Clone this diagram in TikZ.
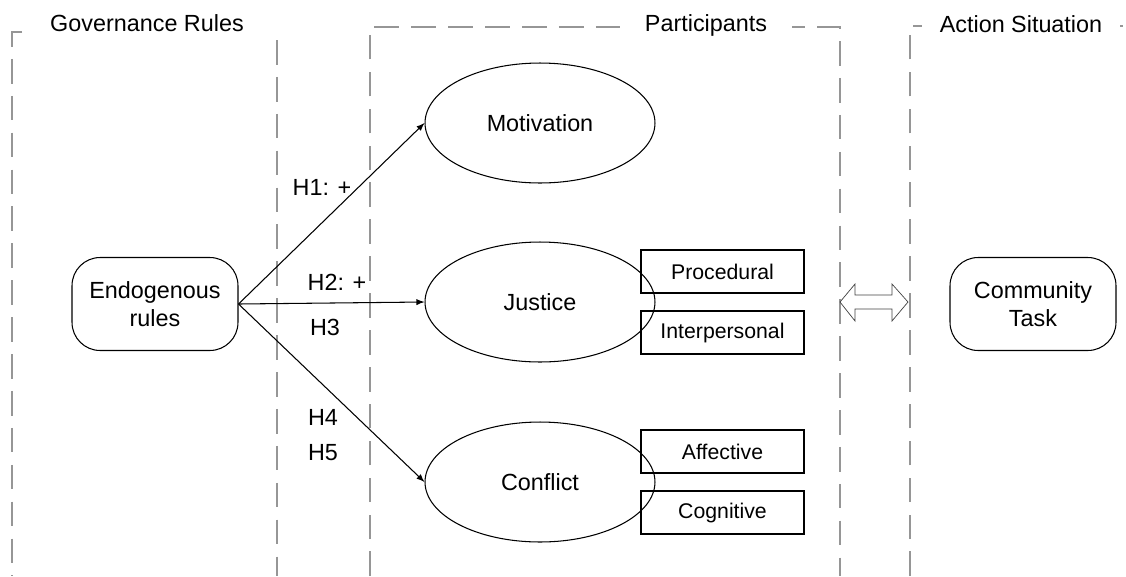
\documentclass[tikz,border=0pt]{standalone}
\usepackage{fontspec}
\setmainfont{Liberation Sans}
\usepackage{tikz}
\usetikzlibrary{shapes.geometric}
\definecolor{framegray}{RGB}{150,150,150}

\begin{document}
\begin{tikzpicture}[x=0.02cm, y=-0.02cm,
	frame/.style = {draw=framegray, line width=0.8pt, dash pattern=on 14pt off 7pt},
	title/.style = {fill=white, inner xsep=10pt, font=\fontsize{13.3}{16}\selectfont},
	rules/.style = {draw, semithick, rounded corners=16pt, minimum width=3.32cm, minimum height=1.86cm, align=center, font=\fontsize{13.3}{15.9}\selectfont},
	factor/.style = {draw, semithick, ellipse, minimum width=4.6cm, minimum height=2.4cm, inner sep=0pt, font=\fontsize{13.3}{16}\selectfont},
	facet/.style = {draw, semithick, minimum width=3.26cm, minimum height=0.86cm, inner sep=0pt, font=\fontsize{12.1}{14}\selectfont},
	hyp/.style = {font=\fontsize{13.3}{16}\selectfont}]

	\useasboundingbox (0,0) rectangle (1126,576);

	\draw [frame] (22,32) -- (12,32) -- (12,576);
	\draw [frame] (277,40) -- (277,576);
	\draw [frame] (370,576) -- (370,27) -- (840,27) -- (840,576);
	\draw [frame] (910,576) -- (910,26) -- (1126,26);

	\node [title] (govern) at (147,23) {Governance Rules};
	\node [title, inner xsep=14pt] (partic) at (706,25) {Participants};
	\node [title] (action) at (1021,24) {Action Situation};

	\node [rules] (endo) at (155,304) {Endogenous\\rules};
	\node [rules] (task) at (1033,304) {Community\\Task};

	\node [factor] (motiv) at (540,123) {Motivation};
	\node [factor] (just) at (540,302) {Justice};
	\node [factor] (confl) at (540,482) {Conflict};

	\node [facet] (proc) at (722.5,271.5) {Procedural};
	\node [facet] (inter) at (722.5,332.5) {Interpersonal};
	\node [facet] (affect) at (722.5,451.5) {Affective};
	\node [facet] (cogn) at (722.5,512.5) {Cognitive};

	\draw [-latex, semithick] (endo.east) -- (motiv.west);
	\draw [-latex, semithick] (endo.east) -- (just.west);
	\draw [-latex, semithick] (endo.east) -- (confl.west);

	\node [hyp] (h1) at (322,187) {H1: +};
	\node [hyp] (h2) at (337,282) {H2: +};
	\node [hyp] (h3) at (325,327) {H3};
	\node [hyp] (h4) at (323,417) {H4};
	\node [hyp] (h5) at (323,453) {H5};

	\draw [black!75] (840,302) -- (855,284) -- (855,295) -- (892,295) -- (892,284) -- (908,302)
		-- (892,321) -- (892,309) -- (855,309) -- (855,321) -- cycle;
\end{tikzpicture}
\end{document}
